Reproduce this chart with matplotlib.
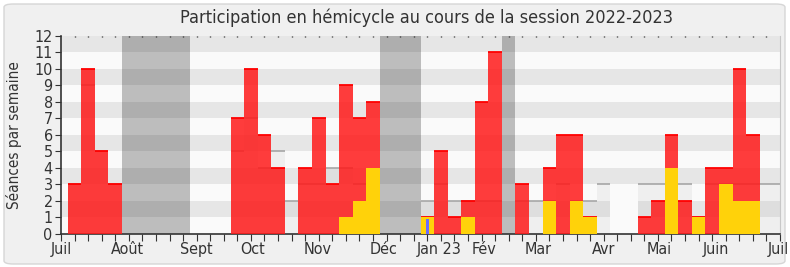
import matplotlib
matplotlib.use("Agg")
import matplotlib.pyplot as plt
from matplotlib.patches import FancyBboxPatch, Rectangle
from matplotlib.transforms import blended_transform_factory
import numpy as np

plt.rcParams['font.family'] = ['DejaVu Sans']
plt.rcParams['font.stretch'] = 'condensed'

# ---- data (one value per week, week 0 = first week of July 2022) ----
semaines = list(range(0, 53))
participation = [3, 10, 5, 3, 0, 0, 0, 0, 0, 0, 0, 0, 7, 10, 6, 4, 0, 4, 7, 3,
                 9, 7, 8, 0, 0, 0, 1, 5, 1, 2, 8, 11, 0, 3, 0, 4, 6, 6, 1, 0,
                 0, 0, 1, 2, 6, 2, 1, 4, 4, 10, 6, 0, 0]
questions = [0, 0, 0, 0, 0, 0, 0, 0, 0, 0, 0, 0, 0, 0, 0, 0, 0, 0, 0, 0,
             1, 2, 4, 0, 0, 0, 1, 0, 0, 1, 0, 0, 0, 0, 0, 2, 0, 2, 1, 0,
             0, 0, 0, 0, 4, 0, 1, 0, 3, 2, 2, 0, 0]
interventions = [0] * 26 + [0.9] + [0] * 26
mediane = [3, 9, 5, 3, 0, 0, 0, 0, 0, 0, 0, 0, 5, 7, 4, 5, 2, 3, 3, 4,
           4, 3, 3, 0, 0, 0, 2, 3, 2, 2, 2, 2, 0, 2, 2, 2, 3, 2, 2, 3,
           0, 0, 3, 3, 3, 3, 1, 3, 3, 3, 3, 3, 3]
vacances = [4, 5, 6, 7, 8, 23, 24, 25, 32]
semaines_blanches = [40, 41]
hauteur_blanche = 3
mois_labels = ["Juil", "Août", "Sept", "Oct", "Nov", "Déc", "Jan 23", "Fév",
               "Mar", "Avr", "Mai", "Juin", "Juil"]
mois_pos = [-1, 3.92, 9.0, 13.1, 17.9, 22.8, 26.9, 30.15, 34.2, 39.0, 43.1, 47.3, 51.9]
y_ticks = list(range(0, 13))

W, H = 790, 267
fig = plt.figure(figsize=(W / 100, H / 100), dpi=100)
fig.patch.set_facecolor('white')
fig.patches.append(FancyBboxPatch((4 / W, 3 / H), (W - 9) / W, (H - 7) / H,
                                  boxstyle="round,pad=0,rounding_size=0.012",
                                  transform=fig.transFigure, facecolor='#f0f0f0',
                                  edgecolor='#d6d6d6', linewidth=1, zorder=-10))

ax = fig.add_axes([61 / W, 1 - 233.5 / H, 719 / W, 197.5 / H])
ax.set_facecolor('#fafafa')
ax.set_xlim(-1, 52)
ax.set_ylim(0, 12)

# vacation shading
for v in vacances:
    ax.axvspan(v - 0.5, v + 0.5, color='#bdbdbd', lw=0, zorder=0.5)

# alternating bands
for y in range(1, 12, 2):
    ax.axhspan(y, y + 1, color='black', alpha=0.08, lw=0, zorder=1)

x = np.array(semaines)
med = np.array(mediane)
# median bars
ax.bar(x, med, width=1, color='#b4b4b4', alpha=0.15, lw=0, zorder=2)
for xi, m in zip(x, med):
    if m > 0:
        ax.plot([xi - 0.5, xi + 0.5], [m, m], color='#a6a6a6', lw=1.2,
                zorder=2.1, solid_capstyle='butt')

# blank weeks
for s in semaines_blanches:
    ax.add_patch(Rectangle((s - 0.5, 0), 1, hauteur_blanche, facecolor='#fafafa',
                           edgecolor='none', zorder=2.2))

part = np.array(participation)
ax.bar(x, part, width=1, color='#ff1a1a', alpha=0.85, lw=0, zorder=3)
for xi, p in zip(x, part):
    if p > 0:
        ax.plot([xi - 0.5, xi + 0.5], [p, p], color='#ff0000', lw=1.3,
                zorder=3.1, solid_capstyle='butt')

ax.bar(x, questions, width=1, color='#ffd20a', lw=0, zorder=4)
ax.bar(x, interventions, width=0.22, color='#6b6bff', lw=0, zorder=5)

# axes styling
ax.spines['top'].set_visible(False)
ax.spines['right'].set_color('#c8c8c8')
ax.spines['left'].set_color('#333333')
ax.spines['bottom'].set_color('#333333')
ax.spines['left'].set_linewidth(1.2)
ax.spines['bottom'].set_linewidth(1.2)

ax.set_yticks(y_ticks)
ax.set_yticklabels([str(v) for v in y_ticks], fontsize=11.5, color='#333333')
ax.tick_params(axis='y', length=4, color='#333333', pad=2)

ax.set_xticks(list(range(-1, 53)))
ax.set_xticklabels([])
ax.tick_params(axis='x', which='major', length=5, color='#333333', direction='out')

trans = blended_transform_factory(ax.transData, ax.transAxes)
for lab, pos in zip(mois_labels, mois_pos):
    ax.text(pos, -0.045, lab, transform=trans, ha='center', va='top',
            fontsize=11.5, color='#333333', clip_on=False)

# top dotted ticks
for k in range(0, 52):
    ax.plot([k, k], [12, 11.93], color='#222222', lw=1.0, zorder=6, clip_on=False,
            solid_capstyle='butt')

ax.set_ylabel("Séances par semaine", fontsize=11, color='#333333', labelpad=9)
fig.text(426 / W, 1 - 18 / H, "Participation en hémicycle au cours de la session 2022-2023",
         ha='center', va='center', fontsize=13, color='#333333')

fig.savefig("out.png", dpi=100, facecolor=fig.get_facecolor())
